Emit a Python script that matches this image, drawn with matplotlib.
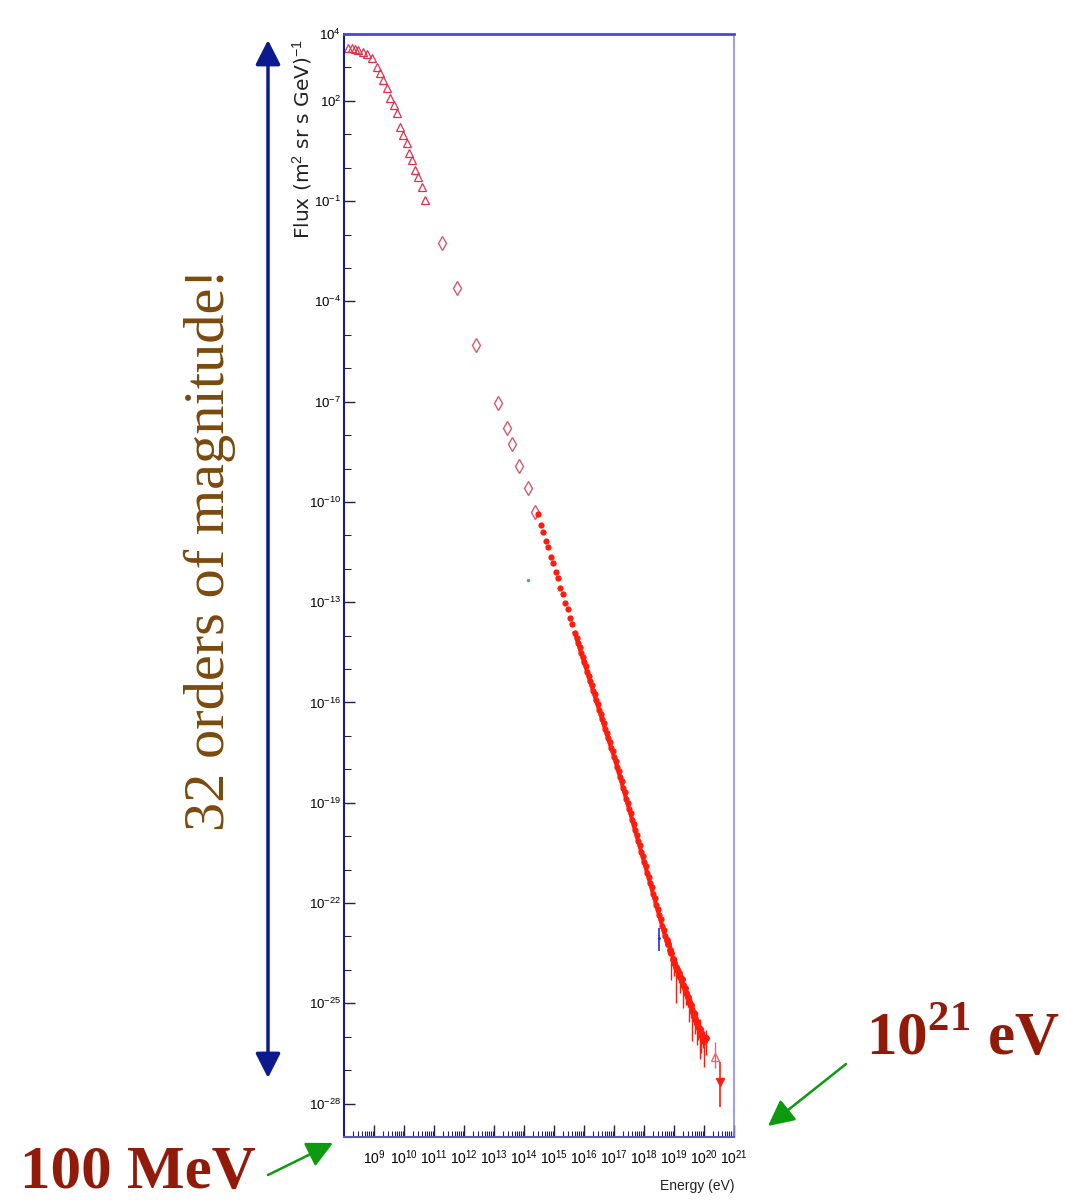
import matplotlib.pyplot as plt
import matplotlib.ticker as mticker
import numpy as np

# log10(E / eV) and log10(flux)
# low energy points (open triangles)
tri_logE = [8.14, 8.26, 8.37, 8.48, 8.62, 8.76, 8.93, 9.09, 9.20, 9.31, 9.43, 9.54,
            9.65, 9.76, 9.87, 9.98, 10.10, 10.18, 10.26, 10.37, 10.48, 10.60, 10.71]
tri_logF = [3.57, 3.57, 3.54, 3.52, 3.47, 3.39, 3.27, 3.02, 2.82, 2.62, 2.38, 2.08,
            1.88, 1.63, 1.23, 0.98, 0.73, 0.43, 0.23, -0.07, -0.27, -0.57, -0.97]

# sparse points (open diamonds)
dia_logE = [11.28, 11.78, 12.41, 13.12, 13.42, 13.59, 13.82, 14.12, 14.35]
dia_logF = [-2.25, -3.60, -5.31, -7.04, -7.79, -8.27, -8.93, -9.58, -10.30]

# dense points (filled)
den_logE = [14.45, 14.56, 14.64, 14.72, 14.80, 14.89, 14.97, 15.05, 15.13, 15.21,
            15.29, 15.37, 15.45, 15.53, 15.61, 15.69, 15.75, 15.80, 15.85, 15.90,
            15.95, 16.00, 16.05, 16.10, 16.15, 16.20, 16.25, 16.30, 16.35, 16.40,
            16.45, 16.50, 16.55, 16.60, 16.65, 16.70, 16.75, 16.80, 16.85, 16.90,
            16.95, 17.00, 17.05, 17.10, 17.15, 17.20, 17.25, 17.30, 17.35, 17.40,
            17.45, 17.50, 17.55, 17.60, 17.65, 17.70, 17.75, 17.80, 17.85, 17.90,
            17.95, 18.00, 18.05, 18.10, 18.15, 18.20, 18.25, 18.30, 18.35, 18.40,
            18.45, 18.50, 18.55, 18.60, 18.65, 18.70]
den_logF = [-10.36, -10.70, -10.90, -11.16, -11.35, -11.65, -11.83, -12.10, -12.29, -12.56,
            -12.74, -13.01, -13.20, -13.46, -13.65, -13.92, -14.06, -14.22, -14.34, -14.52,
            -14.63, -14.80, -14.90, -15.08, -15.20, -15.37, -15.48, -15.65, -15.76, -15.94,
            -16.05, -16.22, -16.33, -16.50, -16.62, -16.79, -16.90, -17.07, -17.18, -17.36,
            -17.46, -17.63, -17.74, -17.93, -18.05, -18.24, -18.36, -18.56, -18.68, -18.88,
            -19.00, -19.19, -19.31, -19.51, -19.63, -19.83, -19.95, -20.14, -20.26, -20.46,
            -20.58, -20.78, -20.90, -21.10, -21.21, -21.41, -21.53, -21.73, -21.85, -22.05,
            -22.17, -22.36, -22.48, -22.68, -22.80, -23.00]

# highest energies, with error bars (decades below / above)
uhe_logE = [18.75, 18.80, 18.85, 18.90, 18.95, 19.00, 19.05, 19.10, 19.15, 19.20,
            19.25, 19.30, 19.35, 19.40, 19.45, 19.50, 19.55, 19.60, 19.65, 19.70,
            19.75, 19.80, 19.85, 19.90, 19.95, 20.00, 20.05]
uhe_logF = [-23.10, -23.22, -23.40, -23.50, -23.66, -23.78, -23.90, -24.00, -24.08, -24.20,
            -24.28, -24.45, -24.55, -24.70, -24.82, -24.95, -25.05, -25.22, -25.30, -25.48,
            -25.56, -25.70, -25.78, -25.95, -26.00, -26.12, -26.05]
uhe_lo = [0.10, 0.30, 0.15, 0.80, 0.20, 0.40, 1.10, 0.25, 0.30, 0.50,
          0.20, 0.70, 0.25, 0.35, 0.30, 0.60, 0.40, 0.90, 0.35, 0.45,
          0.70, 0.40, 0.90, 0.55, 0.35, 0.80, 0.50]
uhe_hi = [0.08, 0.15, 0.10, 0.25, 0.12, 0.20, 0.30, 0.15, 0.15, 0.25,
          0.12, 0.25, 0.15, 0.20, 0.18, 0.25, 0.20, 0.30, 0.20, 0.25,
          0.30, 0.22, 0.30, 0.28, 0.20, 0.30, 0.25]

# last two points: open triangle and upper limit
end_logE = [20.35, 20.52]
end_logF = [-26.60, -27.35]
end_lo = [0.35, 0.75]
end_hi = [0.45, 0.60]

# stray marks
blue_logE, blue_logF = [18.50], [-23.05]
green_logE, green_logF = [14.12], [-12.34]

xtick_exp = list(range(9, 22))
ytick_exp = [4, 2, -1, -4, -7, -10, -13, -16, -19, -22, -25, -28]

plt.rcParams["mathtext.fontset"] = "custom"
plt.rcParams["mathtext.rm"] = "Liberation Serif"
plt.rcParams["mathtext.bf"] = "Liberation Serif:bold"
plt.rcParams["mathtext.sf"] = "Liberation Sans"

W, H = 1066, 1202
fig = plt.figure(figsize=(W / 100, H / 100), dpi=100)
ax = fig.add_axes([344 / W, 1 - 1137 / H, 390 / W, 1103 / H])

red = "#ff1c0c"


def p(v):
    return 10 ** np.asarray(v, dtype=float)


ax.plot(p(tri_logE), p(tri_logF), linestyle="none", marker="^", markersize=5.5,
        markerfacecolor="none", markeredgecolor="#e0304a", markeredgewidth=0.9)
ax.plot(p(dia_logE), p(dia_logF), linestyle="none", marker="d", markersize=7,
        markerfacecolor="none", markeredgecolor="#d45a6c", markeredgewidth=1.0)
# dense part: thin connecting line under overlapping dots
ax.plot(p(den_logE[15:]), p(den_logF[15:]), linestyle="-", linewidth=3.0, color=red)
ax.plot(p(den_logE), p(den_logF), linestyle="none", marker="o", markersize=4.5,
        color=red, markeredgewidth=0)

# error bars for the highest energies
uF = np.asarray(uhe_logF)
lo = p(uF) - p(uF - np.asarray(uhe_lo))
hi = p(uF + np.asarray(uhe_hi)) - p(uF)
ax.errorbar(p(uhe_logE), p(uhe_logF), yerr=[lo, hi], fmt="o", markersize=4,
            color=red, ecolor=red, elinewidth=1.0, capsize=0)

eF = np.asarray(end_logF)
elo = p(eF) - p(eF - np.asarray(end_lo))
ehi = p(eF + np.asarray(end_hi)) - p(eF)
ax.errorbar(p(end_logE[:1]), p(end_logF[:1]), yerr=[elo[:1], ehi[:1]], fmt="^",
            markersize=6, markerfacecolor="none", markeredgecolor="#f06070",
            ecolor="#f06070", elinewidth=1.0, capsize=0)
ax.errorbar(p(end_logE[1:]), p(end_logF[1:]), yerr=[elo[1:], ehi[1:]], fmt="v",
            markersize=6, color=red, ecolor=red, elinewidth=1.2, capsize=0)

ax.errorbar(p(blue_logE), p(blue_logF), yerr=[[p(blue_logF)[0] * 0.6], [p(blue_logF)[0] * 1.0]],
            fmt=".", markersize=2, color="#2030e0", elinewidth=1.2, capsize=0)
ax.plot(p(green_logE), p(green_logF), linestyle="none", marker=".", markersize=3,
        color="#40c040")

ax.set_xscale("log")
ax.set_yscale("log")
ax.set_xlim(1e8, 1e21)
ax.set_ylim(1e-29, 1e4)

# ticks
ax.xaxis.set_major_locator(mticker.FixedLocator([10.0 ** k for k in xtick_exp]))
ax.xaxis.set_major_formatter(mticker.FixedFormatter([r"$\mathsf{10^{%d}}$" % k for k in xtick_exp]))
ax.xaxis.set_minor_locator(mticker.FixedLocator(
    [m * 10.0 ** k for k in range(8, 21) for m in range(2, 10)]))
ax.xaxis.set_minor_formatter(mticker.NullFormatter())

ax.yaxis.set_major_locator(mticker.FixedLocator([10.0 ** k for k in ytick_exp]))
ax.yaxis.set_major_formatter(mticker.FixedFormatter([r"$\mathsf{10^{%d}}$" % k for k in ytick_exp]))
ax.yaxis.set_minor_locator(mticker.FixedLocator([10.0 ** k for k in range(-29, 5)]))
ax.yaxis.set_minor_formatter(mticker.NullFormatter())

ax.tick_params(axis="x", which="major", direction="in", length=9, width=1.0,
               color="#222244", labelsize=10, pad=8)
ax.tick_params(axis="x", which="minor", direction="in", length=4, width=0.8, color="#222244")
ax.tick_params(axis="y", which="major", direction="in", length=8, width=1.0,
               color="#222244", labelsize=9.5, pad=2)
ax.tick_params(axis="y", which="minor", direction="in", length=5, width=0.8, color="#222244")

ax.spines["left"].set_color("#1c1c80")
ax.spines["left"].set_linewidth(1.5)
ax.spines["top"].set_color("#4848d8")
ax.spines["top"].set_linewidth(2.0)
ax.spines["right"].set_color("#8c8cf0")
ax.spines["right"].set_linewidth(1.2)
ax.spines["bottom"].set_color("#5a5ab8")
ax.spines["bottom"].set_linewidth(1.5)

ax.text(-0.108, 0.995, r"Flux (m$^{\mathsf{2}}$ sr s GeV)$^{\mathsf{-1}}$",
        transform=ax.transAxes, rotation=90, ha="center", va="top",
        fontsize=14.5, fontfamily="DejaVu Sans", color="#222222")
ax.text(1.0, -0.038, "Energy (eV)", transform=ax.transAxes, ha="right", va="top",
        fontsize=10, fontfamily="Liberation Sans", color="#222222")

# annotation layer in pixel coordinates
ov = fig.add_axes([0, 0, 1, 1], zorder=-1)
ov.set_xlim(0, W)
ov.set_ylim(H, 0)
ov.axis("off")

navy = "#0b1a8f"
ov.annotate("", xy=(268, 40), xytext=(268, 1078),
            arrowprops=dict(arrowstyle="<|-|>,head_length=0.75,head_width=0.38",
                            mutation_scale=20, color=navy, lw=2.5,
                            shrinkA=0, shrinkB=0))
ov.text(210, 550, "32 orders of magnitude!", rotation=90, ha="center", va="center",
        fontsize=42, fontfamily="Liberation Serif", color="#7a4a0c")

dark_red = "#921a08"
ov.text(866, 1055, r"10$^{\mathbf{21}}$ eV", ha="left", va="baseline",
        fontsize=44, fontweight="bold", fontfamily="Liberation Serif", color=dark_red)
ov.text(20, 1201, "100 MeV", ha="left", va="bottom",
        fontsize=44, fontweight="bold", fontfamily="Liberation Serif", color=dark_red)

green = "#0e9a0e"
ov.annotate("", xy=(768, 1126), xytext=(846, 1064),
            arrowprops=dict(arrowstyle="-|>,head_length=0.8,head_width=0.4",
                            mutation_scale=20, color=green, lw=1.8,
                            shrinkA=0, shrinkB=0))
ov.annotate("", xy=(333, 1143), xytext=(268, 1175),
            arrowprops=dict(arrowstyle="-|>,head_length=0.8,head_width=0.4",
                            mutation_scale=20, color=green, lw=1.8,
                            shrinkA=0, shrinkB=0))

fig.savefig("out.png", dpi=100)
plt.close(fig)
